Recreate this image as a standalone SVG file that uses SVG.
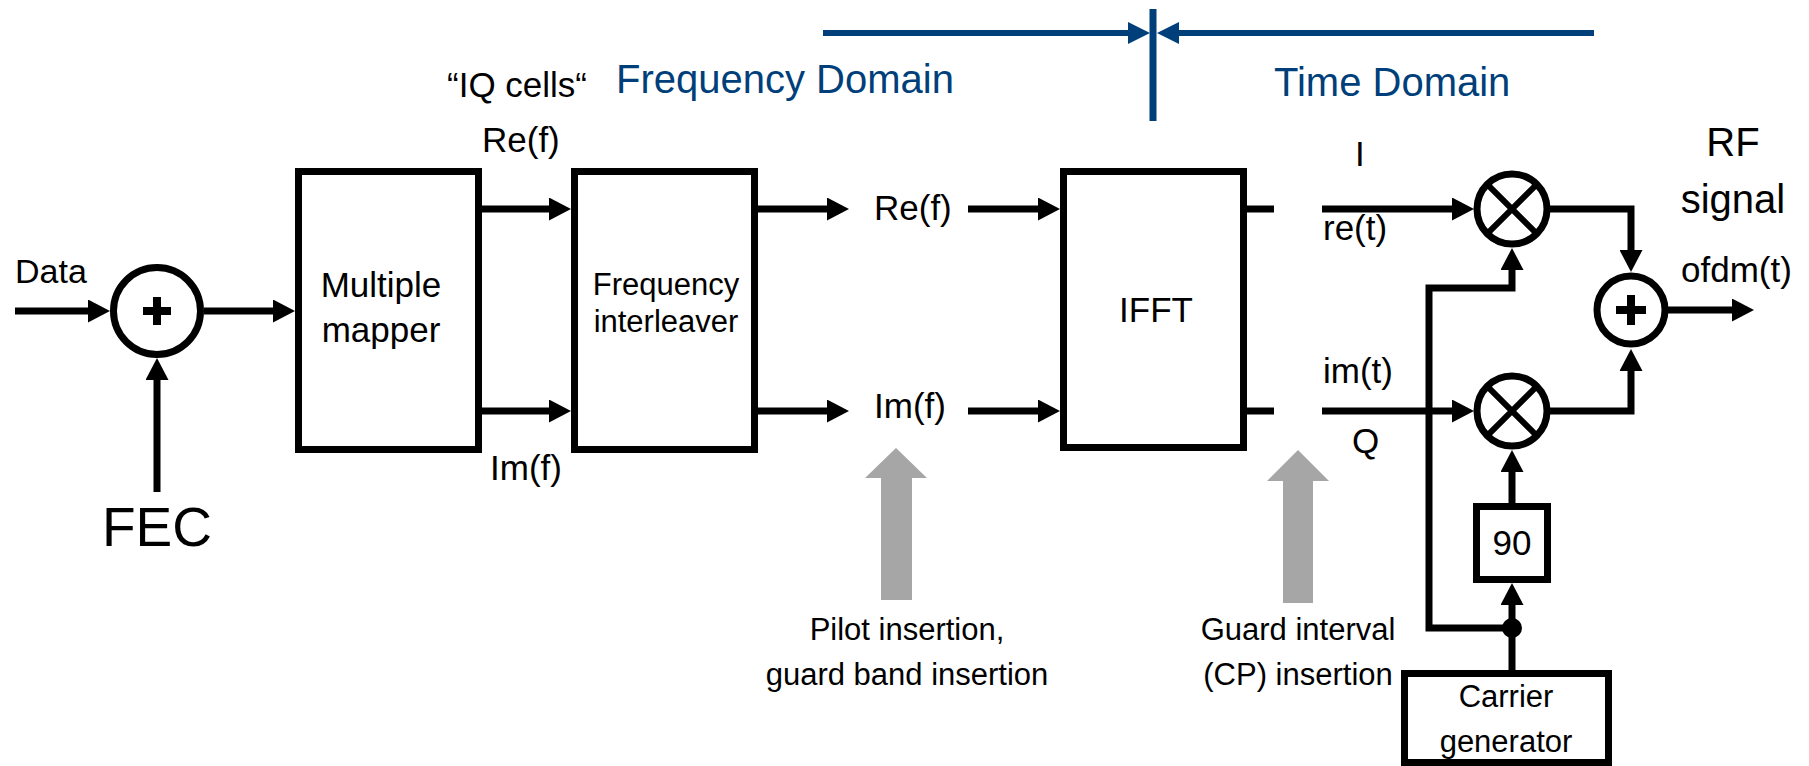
<svg xmlns="http://www.w3.org/2000/svg" width="1809" height="766" viewBox="0 0 1809 766">
<style>
  text { font-family: "Liberation Sans", Arial, sans-serif; fill: #000; }
  .blue { fill: #003f7a; }
  .box { fill: #fff; stroke: #000; stroke-width: 7; }
  .circ { fill: #fff; stroke: #000; stroke-width: 7; }
  .wire { fill: none; stroke: #000; stroke-width: 7; }
  .arr { fill: none; stroke: #000; stroke-width: 7; marker-end: url(#ah); }
  .barr { fill: none; stroke: #003f7a; stroke-width: 6; marker-end: url(#bh); }
  .sym { stroke: #000; stroke-width: 6; fill: none; }
  .plus { stroke: #000; stroke-width: 8; fill: none; }
  .gray { fill: #a6a6a6; }
  .c { text-anchor: middle; }
</style>
<defs>
  <marker id="ah" viewBox="0 0 22 23" refX="12" refY="11.5" markerWidth="22" markerHeight="23" markerUnits="userSpaceOnUse" orient="auto">
    <path d="M0,0 L22,11.5 L0,23 z" fill="#000"/>
  </marker>
  <marker id="bh" viewBox="0 0 22 22" refX="12" refY="11" markerWidth="22" markerHeight="22" markerUnits="userSpaceOnUse" orient="auto">
    <path d="M0,0 L22,11 L0,22 z" fill="#003f7a"/>
  </marker>
</defs>
<rect width="1809" height="766" fill="#fff"/>

<!-- Domain indicator -->
<g id="domain">
  <path class="barr" d="M823,33 H1140"/>
  <path class="barr" d="M1594,33 H1167"/>
  <path d="M1153,9 V121" stroke="#003f7a" stroke-width="7" fill="none"/>
  <text class="blue" x="616" y="93" font-size="40">Frequency Domain</text>
  <text class="blue" x="1274" y="96" font-size="40">Time Domain</text>
</g>

<!-- Connectors -->
<g id="connectors">
  <path class="arr" d="M15,311 H100"/>
  <path class="arr" d="M204,311 H285"/>
  <path class="arr" d="M157,492 V368"/>
  <path class="arr" d="M481,209 H561"/>
  <path class="arr" d="M481,411 H561"/>
  <path class="arr" d="M758,209 H839"/>
  <path class="arr" d="M758,411 H839"/>
  <path class="arr" d="M968,209 H1050"/>
  <path class="arr" d="M968,411 H1050"/>
  <path class="wire" d="M1247,209 H1274"/>
  <path class="wire" d="M1247,411 H1274"/>
  <path class="arr" d="M1322,209 H1464"/>
  <path class="arr" d="M1322,411 H1464"/>
  <path class="arr" d="M1547,209 H1631 V262"/>
  <path class="arr" d="M1547,411 H1631 V359"/>
  <path class="arr" d="M1666,310 H1744"/>
  <path class="arr" d="M1512,628 H1429 V288 H1512 V258"/>
  <path class="wire" d="M1512,670 V628"/>
  <path class="arr" d="M1512,628 V593"/>
  <path class="arr" d="M1512,503 V460"/>
  <circle cx="1512" cy="628" r="10" fill="#000"/>
</g>

<!-- Gray insertion arrows -->
<g id="pilot-insertion">
  <polygon class="gray" points="896,448 927,478 912,478 912,600 881,600 881,478 865,478"/>
  <text class="c" x="907" y="640" font-size="31">Pilot insertion,</text>
  <text class="c" x="907" y="685" font-size="31">guard band insertion</text>
</g>
<g id="guard-insertion">
  <polygon class="gray" points="1298,450 1329,481 1313,481 1313,603 1283,603 1283,481 1267,481"/>
  <text class="c" x="1298" y="640" font-size="31">Guard interval</text>
  <text class="c" x="1298" y="685" font-size="31">(CP) insertion</text>
</g>

<!-- Input -->
<g id="input-labels">
  <text x="15" y="283" font-size="34">Data</text>
  <text class="c" x="157" y="546" font-size="55">FEC</text>
</g>

<g id="sum1">
  <circle class="circ" cx="157" cy="311" r="43.5"/>
  <path class="plus" d="M143,311 H171 M157,297 V325"/>
</g>

<g id="mapper">
  <rect class="box" x="298.5" y="171.5" width="180" height="278"/>
  <text class="c" x="381" y="297" font-size="35">Multiple</text>
  <text class="c" x="381" y="342" font-size="35">mapper</text>
</g>

<g id="iq-labels">
  <text x="447" y="97" font-size="35">“IQ cells“</text>
  <text x="482" y="152" font-size="35">Re(f)</text>
  <text x="490" y="480" font-size="35">Im(f)</text>
</g>

<g id="interleaver">
  <rect class="box" x="574.5" y="171.5" width="180" height="278"/>
  <text class="c" x="666" y="295" font-size="31">Frequency</text>
  <text class="c" x="666" y="332" font-size="31">interleaver</text>
</g>

<g id="freq-labels">
  <text x="874" y="220" font-size="35">Re(f)</text>
  <text x="874" y="418" font-size="35">Im(f)</text>
</g>

<g id="ifft">
  <rect class="box" x="1063.5" y="171.5" width="180" height="276"/>
  <text class="c" x="1156" y="322" font-size="35">IFFT</text>
</g>

<g id="time-labels">
  <text x="1355" y="166" font-size="35">I</text>
  <text x="1323" y="240" font-size="35">re(t)</text>
  <text x="1323" y="383" font-size="35">im(t)</text>
  <text x="1352" y="453" font-size="35">Q</text>
</g>

<g id="mixer1">
  <circle class="circ" cx="1512" cy="209" r="35"/>
  <path class="sym" d="M1487.3,184.3 L1536.7,233.7 M1536.7,184.3 L1487.3,233.7"/>
</g>
<g id="mixer2">
  <circle class="circ" cx="1512" cy="411" r="35"/>
  <path class="sym" d="M1487.3,386.3 L1536.7,435.7 M1536.7,386.3 L1487.3,435.7"/>
</g>

<g id="sum2">
  <circle class="circ" cx="1631" cy="310" r="34"/>
  <path class="plus" d="M1616,310 H1646 M1631,295 V325" stroke-width="9"/>
</g>

<g id="output-labels">
  <text class="c" x="1733" y="156" font-size="40">RF</text>
  <text class="c" x="1733" y="213" font-size="40">signal</text>
  <text x="1681" y="282" font-size="35">ofdm(t)</text>
</g>

<g id="phase90">
  <rect class="box" x="1476.5" y="506.5" width="71" height="73"/>
  <text class="c" x="1512" y="555" font-size="35">90</text>
</g>

<g id="carrier">
  <rect class="box" x="1404.5" y="673.5" width="204" height="89"/>
  <text class="c" x="1506" y="707" font-size="31">Carrier</text>
  <text class="c" x="1506" y="752" font-size="31">generator</text>
</g>
</svg>
